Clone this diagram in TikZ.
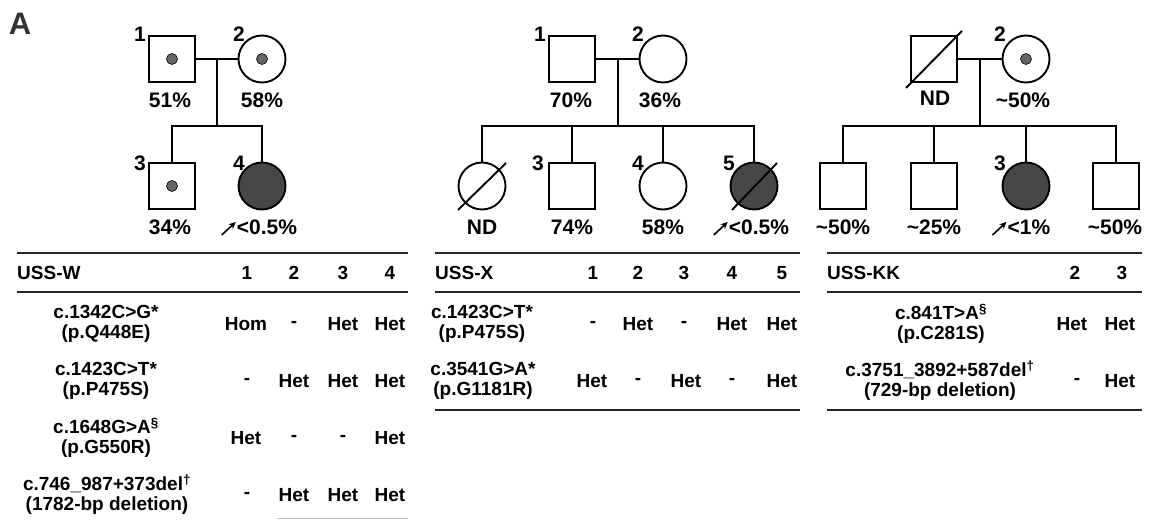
\documentclass[tikz,border=0pt]{standalone}
\usepackage{fontspec}
\setmainfont{Liberation Sans}
\usetikzlibrary{arrows.meta}
\begin{document}
\begin{tikzpicture}[x=1pt,y=-1pt,
  every node/.style={font=\fontsize{19}{20}\selectfont\bfseries, inner sep=0pt},
  pf/.style={font=\fontsize{21}{21}\selectfont\bfseries},
  ln/.style={line width=1.9pt},
  male/.style={draw, rectangle, line width=1.9pt, minimum size=46pt, fill=white},
  female/.style={draw, circle, line width=1.9pt, minimum size=47pt, fill=white},
  aff/.style={fill=black!72},
  carrier/.style={draw, circle, line width=0.6pt, fill=black!60, minimum size=11pt},
  slash/.style={line width=1.9pt},
  rule/.style={line width=1.9pt, black!85},
  tt/.style={align=center},
  pr/.style={-{Stealth[length=7pt,width=6.5pt]}, line width=1.6pt}
]
\useasboundingbox (0,0) rectangle (1151,526);

% ---------- panel letter
\node[font=\fontsize{31}{31}\selectfont\bfseries, text=black!80] (lettA) at (20,24) {A};

% ---------- pedigree USS-W
\node[male] (w1) at (172,59) {};
\node[female] (w2) at (262,59) {};
\node[carrier] (w1d) at (w1.center) {};
\node[carrier] (w2d) at (w2.center) {};
\node[pf] (w1n) at (140,34) {1};
\node[pf] (w2n) at (239,34) {2};
\node[pf] (w1p) at (170,100) {51\%};
\node[pf] (w2p) at (262,100) {58\%};
\coordinate (wm) at (217,59);
\coordinate (ws) at (217,126);
\node[male] (w3) at (172,186) {};
\node[female, aff] (w4) at (262,186) {};
\node[carrier] (w3d) at (w3.center) {};
\node[pf] (w3n) at (140,163) {3};
\node[pf] (w4n) at (239,163) {4};
\node[pf] (w3p) at (170,227) {34\%};
\node[pf] (w4p) at (267,227) {<0.5\%};
\coordinate (w4a0) at ([xshift=-15pt,yshift=-8pt]w4p.west);
\coordinate (w4a1) at ([xshift=-1pt,yshift=5pt]w4p.west);
\draw[ln] (w1) -- (w2);
\draw[ln] (wm) -- (ws);
\draw[ln] (w3.north) -- (w3.north |- ws) -- (w4.north |- ws) -- (w4.north);
\draw[pr] (w4a0) -- (w4a1);

% ---------- pedigree USS-X
\node[male] (x1) at (572,59) {};
\node[female] (x2) at (663,59) {};
\node[pf] (x1n) at (540,34) {1};
\node[pf] (x2n) at (638,34) {2};
\node[pf] (x1p) at (571,100) {70\%};
\node[pf] (x2p) at (660,100) {36\%};
\coordinate (xm) at (618,59);
\coordinate (xs) at (618,126);
\node[female] (x0) at (482,186) {};
\node[male] (x3) at (572,186) {};
\node[female] (x4) at (663,186) {};
\node[female, aff] (x5) at (754,186) {};
\node[pf] (x3n) at (538,163) {3};
\node[pf] (x4n) at (638,163) {4};
\node[pf] (x5n) at (729,163) {5};
\node[pf] (x0p) at (482,227) {ND};
\node[pf] (x3p) at (572,227) {74\%};
\node[pf] (x4p) at (663,227) {58\%};
\node[pf] (x5p) at (759,227) {<0.5\%};
\coordinate (x5a0) at ([xshift=-15pt,yshift=-8pt]x5p.west);
\coordinate (x5a1) at ([xshift=-1pt,yshift=5pt]x5p.west);
\draw[ln] (x1) -- (x2);
\draw[ln] (xm) -- (xs);
\draw[ln] (x0.north) -- (x0.north |- xs) -- (x5.north |- xs) -- (x5.north);
\draw[ln] (x3.north) -- (x3.north |- xs);
\draw[ln] (x4.north) -- (x4.north |- xs);
\draw[slash] ([shift={(-24,24)}]x0.center) -- ([shift={(24,-23)}]x0.center);
\draw[slash] ([shift={(-22,24)}]x5.center) -- ([shift={(23,-23)}]x5.center);
\draw[pr] (x5a0) -- (x5a1);

% ---------- pedigree USS-KK
\node[male] (k1) at (934,59) {};
\node[female] (k2) at (1026,59) {};
\node[carrier] (k2d) at (k2.center) {};
\node[pf] (k2n) at (1000,34) {2};
\node[pf] (k1p) at (935,98) {ND};
\node[pf] (k2p) at (1023,100) {\textasciitilde 50\%};
\coordinate (km) at (980,59);
\coordinate (ks) at (980,126);
\node[male] (k4) at (843,186) {};
\node[male] (k5) at (934,186) {};
\node[female, aff] (k3) at (1026,186) {};
\node[male] (k6) at (1116,186) {};
\node[pf] (k3n) at (1000,163) {3};
\node[pf] (k4p) at (843,227) {\textasciitilde 50\%};
\node[pf] (k5p) at (934,227) {\textasciitilde 25\%};
\node[pf] (k3p) at (1029,227) {<1\%};
\node[pf] (k6p) at (1115,227) {\textasciitilde 50\%};
\coordinate (k3a0) at ([xshift=-15pt,yshift=-8pt]k3p.west);
\coordinate (k3a1) at ([xshift=-1pt,yshift=5pt]k3p.west);
\draw[ln] (k1) -- (k2);
\draw[ln] (km) -- (ks);
\draw[ln] (k4.north) -- (k4.north |- ks) -- (k6.north |- ks) -- (k6.north);
\draw[ln] (k5.north) -- (k5.north |- ks);
\draw[ln] (k3.north) -- (k3.north |- ks);
\draw[slash] ([shift={(-28,29)}]k1.center) -- ([shift={(28,-28)}]k1.center);
\draw[pr] (k3a0) -- (k3a1);

% ---------- table USS-W
\draw[rule] (17,253) -- (408,253);
\draw[rule] (17,292) -- (408,292);
\draw[black!25, line width=0.8pt] (277,518) -- (408,518);
\node[anchor=west] (wh) at (17,273) {USS-W};
\node (wh1) at (247,273) {1};
\node (wh2) at (294,273) {2};
\node (wh3) at (343,273) {3};
\node (wh4) at (390,273) {4};
\node[tt] (wr1) at (106,324) {c.1342C>G*\\(p.Q448E)};
\node (wr11) at (246,324) {Hom};
\node (wr12) at (294,324) {-};
\node (wr13) at (343,324) {Het};
\node (wr14) at (390,324) {Het};
\node[tt] (wr2) at (106,381) {c.1423C>T*\\(p.P475S)};
\node (wr21) at (247,381) {-};
\node (wr22) at (294,381) {Het};
\node (wr23) at (343,381) {Het};
\node (wr24) at (390,381) {Het};
\node[tt] (wr3) at (106,438) {c.1648G>A\textsuperscript{\S}\\(p.G550R)};
\node (wr31) at (246,438) {Het};
\node (wr32) at (294,438) {-};
\node (wr33) at (343,438) {-};
\node (wr34) at (390,438) {Het};
\node[tt] (wr4) at (107,495) {c.746\_987+373del\textsuperscript{†}\\(1782-bp deletion)};
\node (wr41) at (247,495) {-};
\node (wr42) at (294,495) {Het};
\node (wr43) at (343,495) {Het};
\node (wr44) at (390,495) {Het};

% ---------- table USS-X
\draw[rule] (435,253) -- (800,253);
\draw[rule] (435,292) -- (800,292);
\draw[rule] (435,410) -- (800,410);
\node[anchor=west] (xh) at (435,273) {USS-X};
\node (xh1) at (593,273) {1};
\node (xh2) at (638,273) {2};
\node (xh3) at (684,273) {3};
\node (xh4) at (732,273) {4};
\node (xh5) at (782,273) {5};
\node[tt] (xr1) at (482,324) {c.1423C>T*\\(p.P475S)};
\node (xr11) at (593,324) {-};
\node (xr12) at (638,324) {Het};
\node (xr13) at (684,324) {-};
\node (xr14) at (732,324) {Het};
\node (xr15) at (782,324) {Het};
\node[tt] (xr2) at (483,381) {c.3541G>A*\\(p.G1181R)};
\node (xr21) at (592,381) {Het};
\node (xr22) at (638,381) {-};
\node (xr23) at (686,381) {Het};
\node (xr24) at (732,381) {-};
\node (xr25) at (782,381) {Het};

% ---------- table USS-KK
\draw[rule] (827,253) -- (1142,253);
\draw[rule] (827,292) -- (1142,292);
\draw[rule] (827,410) -- (1142,410);
\node[anchor=west] (kh) at (827,273) {USS-KK};
\node (kh2) at (1075,273) {2};
\node (kh3) at (1122,273) {3};
\node[tt] (kr1) at (941,324) {c.841T>A\textsuperscript{\S}\\(p.C281S)};
\node (kr12) at (1072,324) {Het};
\node (kr13) at (1120,324) {Het};
\node[tt] (kr2) at (940,381) {c.3751\_3892+587del\textsuperscript{†}\\(729-bp deletion)};
\node (kr22) at (1077,381) {-};
\node (kr23) at (1120,381) {Het};
\end{tikzpicture}
\end{document}
